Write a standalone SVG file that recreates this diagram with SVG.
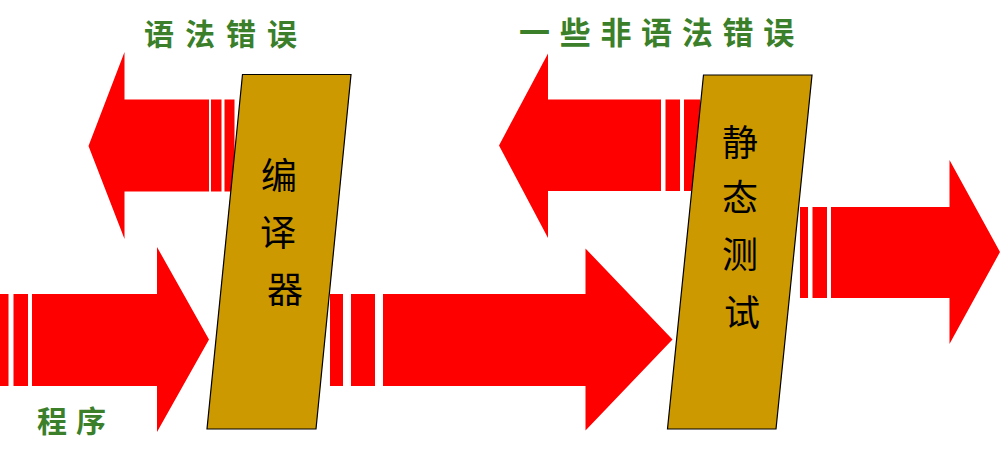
<svg xmlns="http://www.w3.org/2000/svg" width="1001" height="452" viewBox="0 0 1001 452">
<style>
.arrow{fill:#FF0000}
.box{fill:#CC9900;stroke:#000;stroke-width:1.2}
.lbl{font-family:"Noto Sans CJK SC","Noto Sans",sans-serif;font-weight:bold;fill:#3B7F2B;dominant-baseline:central}
.vt{font-family:"Noto Sans CJK SC","Noto Sans",sans-serif;font-size:36px;fill:#000;text-anchor:middle;dominant-baseline:central}
</style>
<rect width="1001" height="452" fill="#fff"/>
<g id="connectors">
  <g id="arrow-input">
    <rect class="arrow" x="0" y="294" width="8.5" height="92"/>
    <rect class="arrow" x="13.5" y="294" width="14.5" height="92"/>
    <polygon class="arrow" points="32,294 157,294 157,247 209,339.5 157,432 157,386 32,386"/>
    <text class="lbl" x="37" y="419" font-size="30" letter-spacing="9">程序</text>
  </g>
  <g id="arrow-syntax">
    <polygon class="arrow" points="209,99.5 124.5,99.5 124.5,52 88.5,146 124.5,239 124.5,191.5 209,191.5"/>
    <rect class="arrow" x="211" y="99.5" width="10.5" height="92"/>
    <rect class="arrow" x="224.5" y="99.5" width="10" height="92"/>
    <text class="lbl" x="144" y="32" font-size="30" letter-spacing="11">语法错误</text>
  </g>
  <g id="arrow-middle">
    <rect class="arrow" x="330" y="294" width="13" height="92"/>
    <rect class="arrow" x="351" y="294" width="24" height="92"/>
    <polygon class="arrow" points="383,294 585.5,294 585.5,248.5 672.5,339.5 585.5,430.5 585.5,386 383,386"/>
  </g>
  <g id="arrow-nonsyntax">
    <polygon class="arrow" points="661,99.5 548,99.5 548,53.5 499,145.5 548,238 548,191 661,191"/>
    <rect class="arrow" x="665.5" y="99.5" width="14.5" height="91.5"/>
    <rect class="arrow" x="684" y="99.5" width="16" height="91.5"/>
    <text class="lbl" x="519" y="30" font-size="31" letter-spacing="9.7">一些非语法错误</text>
  </g>
  <g id="arrow-output">
    <rect class="arrow" x="800" y="207" width="8" height="91"/>
    <rect class="arrow" x="812.5" y="207" width="14.5" height="91"/>
    <polygon class="arrow" points="831,207 949.5,207 949.5,160 1000,252 949.5,344 949.5,298 831,298"/>
  </g>
</g>
<g id="compiler">
  <polygon class="box" points="242.5,74.5 351,74.5 316,429 207,429"/>
  <text class="vt" x="279" y="173">编</text>
  <text class="vt" x="278" y="230">译</text>
  <text class="vt" x="285" y="287">器</text>
</g>
<g id="static-test">
  <polygon class="box" points="703.5,75 812,75 776,429 667.5,429"/>
  <text class="vt" x="740" y="140">静</text>
  <text class="vt" x="740" y="195">态</text>
  <text class="vt" x="740" y="252">测</text>
  <text class="vt" x="742" y="310">试</text>
</g>
</svg>
